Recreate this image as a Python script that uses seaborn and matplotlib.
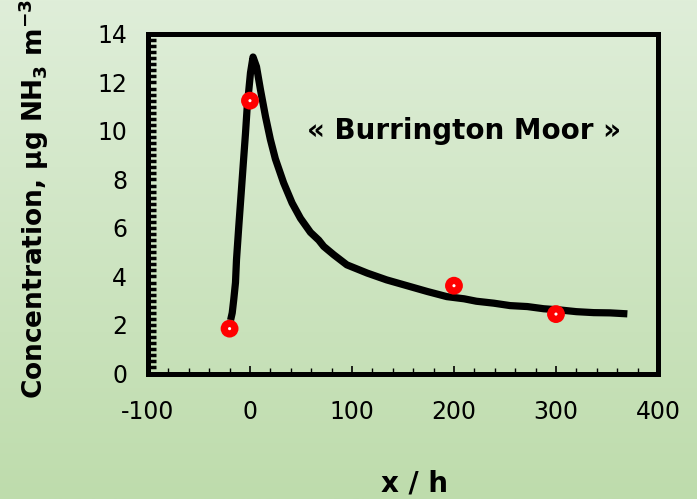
import numpy as np
import pandas as pd
import matplotlib
matplotlib.use("Agg")
import matplotlib.pyplot as plt
from matplotlib.ticker import MultipleLocator
from matplotlib.colors import LinearSegmentedColormap
import seaborn as sns

# Modelled concentration profile (hours vs. ug NH3 m-3)
curve_x = [-19, -17.4, -15.9, -14.2, -13.2, -11, -8.6, -6.3, -4.4, -2.7, 0.5, 3,
           6.4, 10.3, 15.2, 20, 24.9, 33, 41.3, 49.5, 59.3, 67.4, 72.3, 82, 95,
           115, 134, 154, 174, 193, 210, 222, 239, 255, 272, 288, 304, 320, 337,
           353, 370]
curve_y = [2.2, 2.5, 3.05, 3.75, 4.7, 6.05, 7.45, 8.8, 9.9, 11.0, 12.4, 13.05,
           12.65, 11.7, 10.6, 9.65, 8.85, 7.86, 7.03, 6.4, 5.82, 5.5, 5.24, 4.9,
           4.48, 4.14, 3.86, 3.62, 3.38, 3.17, 3.08, 2.98, 2.9, 2.8, 2.76, 2.67,
           2.62, 2.55, 2.51, 2.5, 2.46]

# Measured concentrations
meas_x = [-20, 0, 200, 300]
meas_y = [1.85, 11.25, 3.62, 2.45]

x_ticks = [-100, 0, 100, 200, 300, 400]
y_ticks = [0, 2, 4, 6, 8, 10, 12, 14]
site_label = "« Burrington Moor »"

sns.set_theme(style="white")
plt.rcParams["font.family"] = ["DejaVu Sans"]
plt.rcParams["axes.unicode_minus"] = False
plt.rcParams["text.color"] = "black"
plt.rcParams["axes.labelcolor"] = "black"
plt.rcParams["xtick.color"] = "black"
plt.rcParams["ytick.color"] = "black"

fig = plt.figure(figsize=(6.97, 4.99), dpi=100)

# green vertical gradient behind everything
bg = fig.add_axes([0, 0, 1, 1], zorder=-10)
cmap = LinearSegmentedColormap.from_list("bg", ["#dfeed9", "#bedcac"])
bg.imshow(np.linspace(0, 1, 256).reshape(-1, 1), aspect="auto", cmap=cmap,
          extent=[0, 1, 0, 1], origin="upper")
bg.set_axis_off()

ax = fig.add_axes([0.2123, 0.2515, 0.7317, 0.6804])
ax.set_facecolor("none")

df_curve = pd.DataFrame({"x": curve_x, "y": curve_y})
df_meas = pd.DataFrame({"x": meas_x, "y": meas_y})

sns.lineplot(data=df_curve, x="x", y="y", ax=ax, color="black", lw=5.2,
             sort=False, estimator=None, solid_joinstyle="round",
             solid_capstyle="butt", zorder=3)
sns.scatterplot(data=df_meas, x="x", y="y", ax=ax, color="#ff0000", s=165,
                edgecolor="none", zorder=4)
sns.scatterplot(data=df_meas, x="x", y="y", ax=ax, color="white", s=5,
                edgecolor="none", zorder=5)

ax.set_xlim(-100, 400)
ax.set_ylim(0, 14)
ax.set_xticks(x_ticks)
ax.set_yticks(y_ticks)
ax.xaxis.set_minor_locator(MultipleLocator(20))
ax.yaxis.set_minor_locator(MultipleLocator(0.25))

for s in ax.spines.values():
    s.set_color("black")
    s.set_linewidth(3.6)

ax.tick_params(axis="both", which="both", direction="in", color="black",
               top=False, right=False, left=True, bottom=True)
ax.tick_params(axis="x", which="major", length=5.5, width=1.2, pad=19,
               labelsize=17, labelcolor="black")
ax.tick_params(axis="x", which="minor", length=4, width=1.0)
ax.tick_params(axis="y", which="major", length=5.5, width=2.5, pad=15,
               labelsize=17, labelcolor="black")
ax.tick_params(axis="y", which="minor", length=5.5, width=2.5)

ax.set_xlabel("x / h", fontsize=20, fontweight="bold")
ax.xaxis.set_label_coords(0.523, -0.282)
ax.set_ylabel(r"Concentration, $\mathbf{\mu}$g NH$_\mathbf{3}$ m$^\mathbf{-3}$",
              fontsize=19, fontweight="bold")
ax.yaxis.set_label_coords(-0.19, 0.515)

ax.text(210, 10.0, site_label, ha="center", va="center", fontsize=20,
        fontweight="bold", color="black", zorder=6)

fig.savefig("out.png", dpi=100)
